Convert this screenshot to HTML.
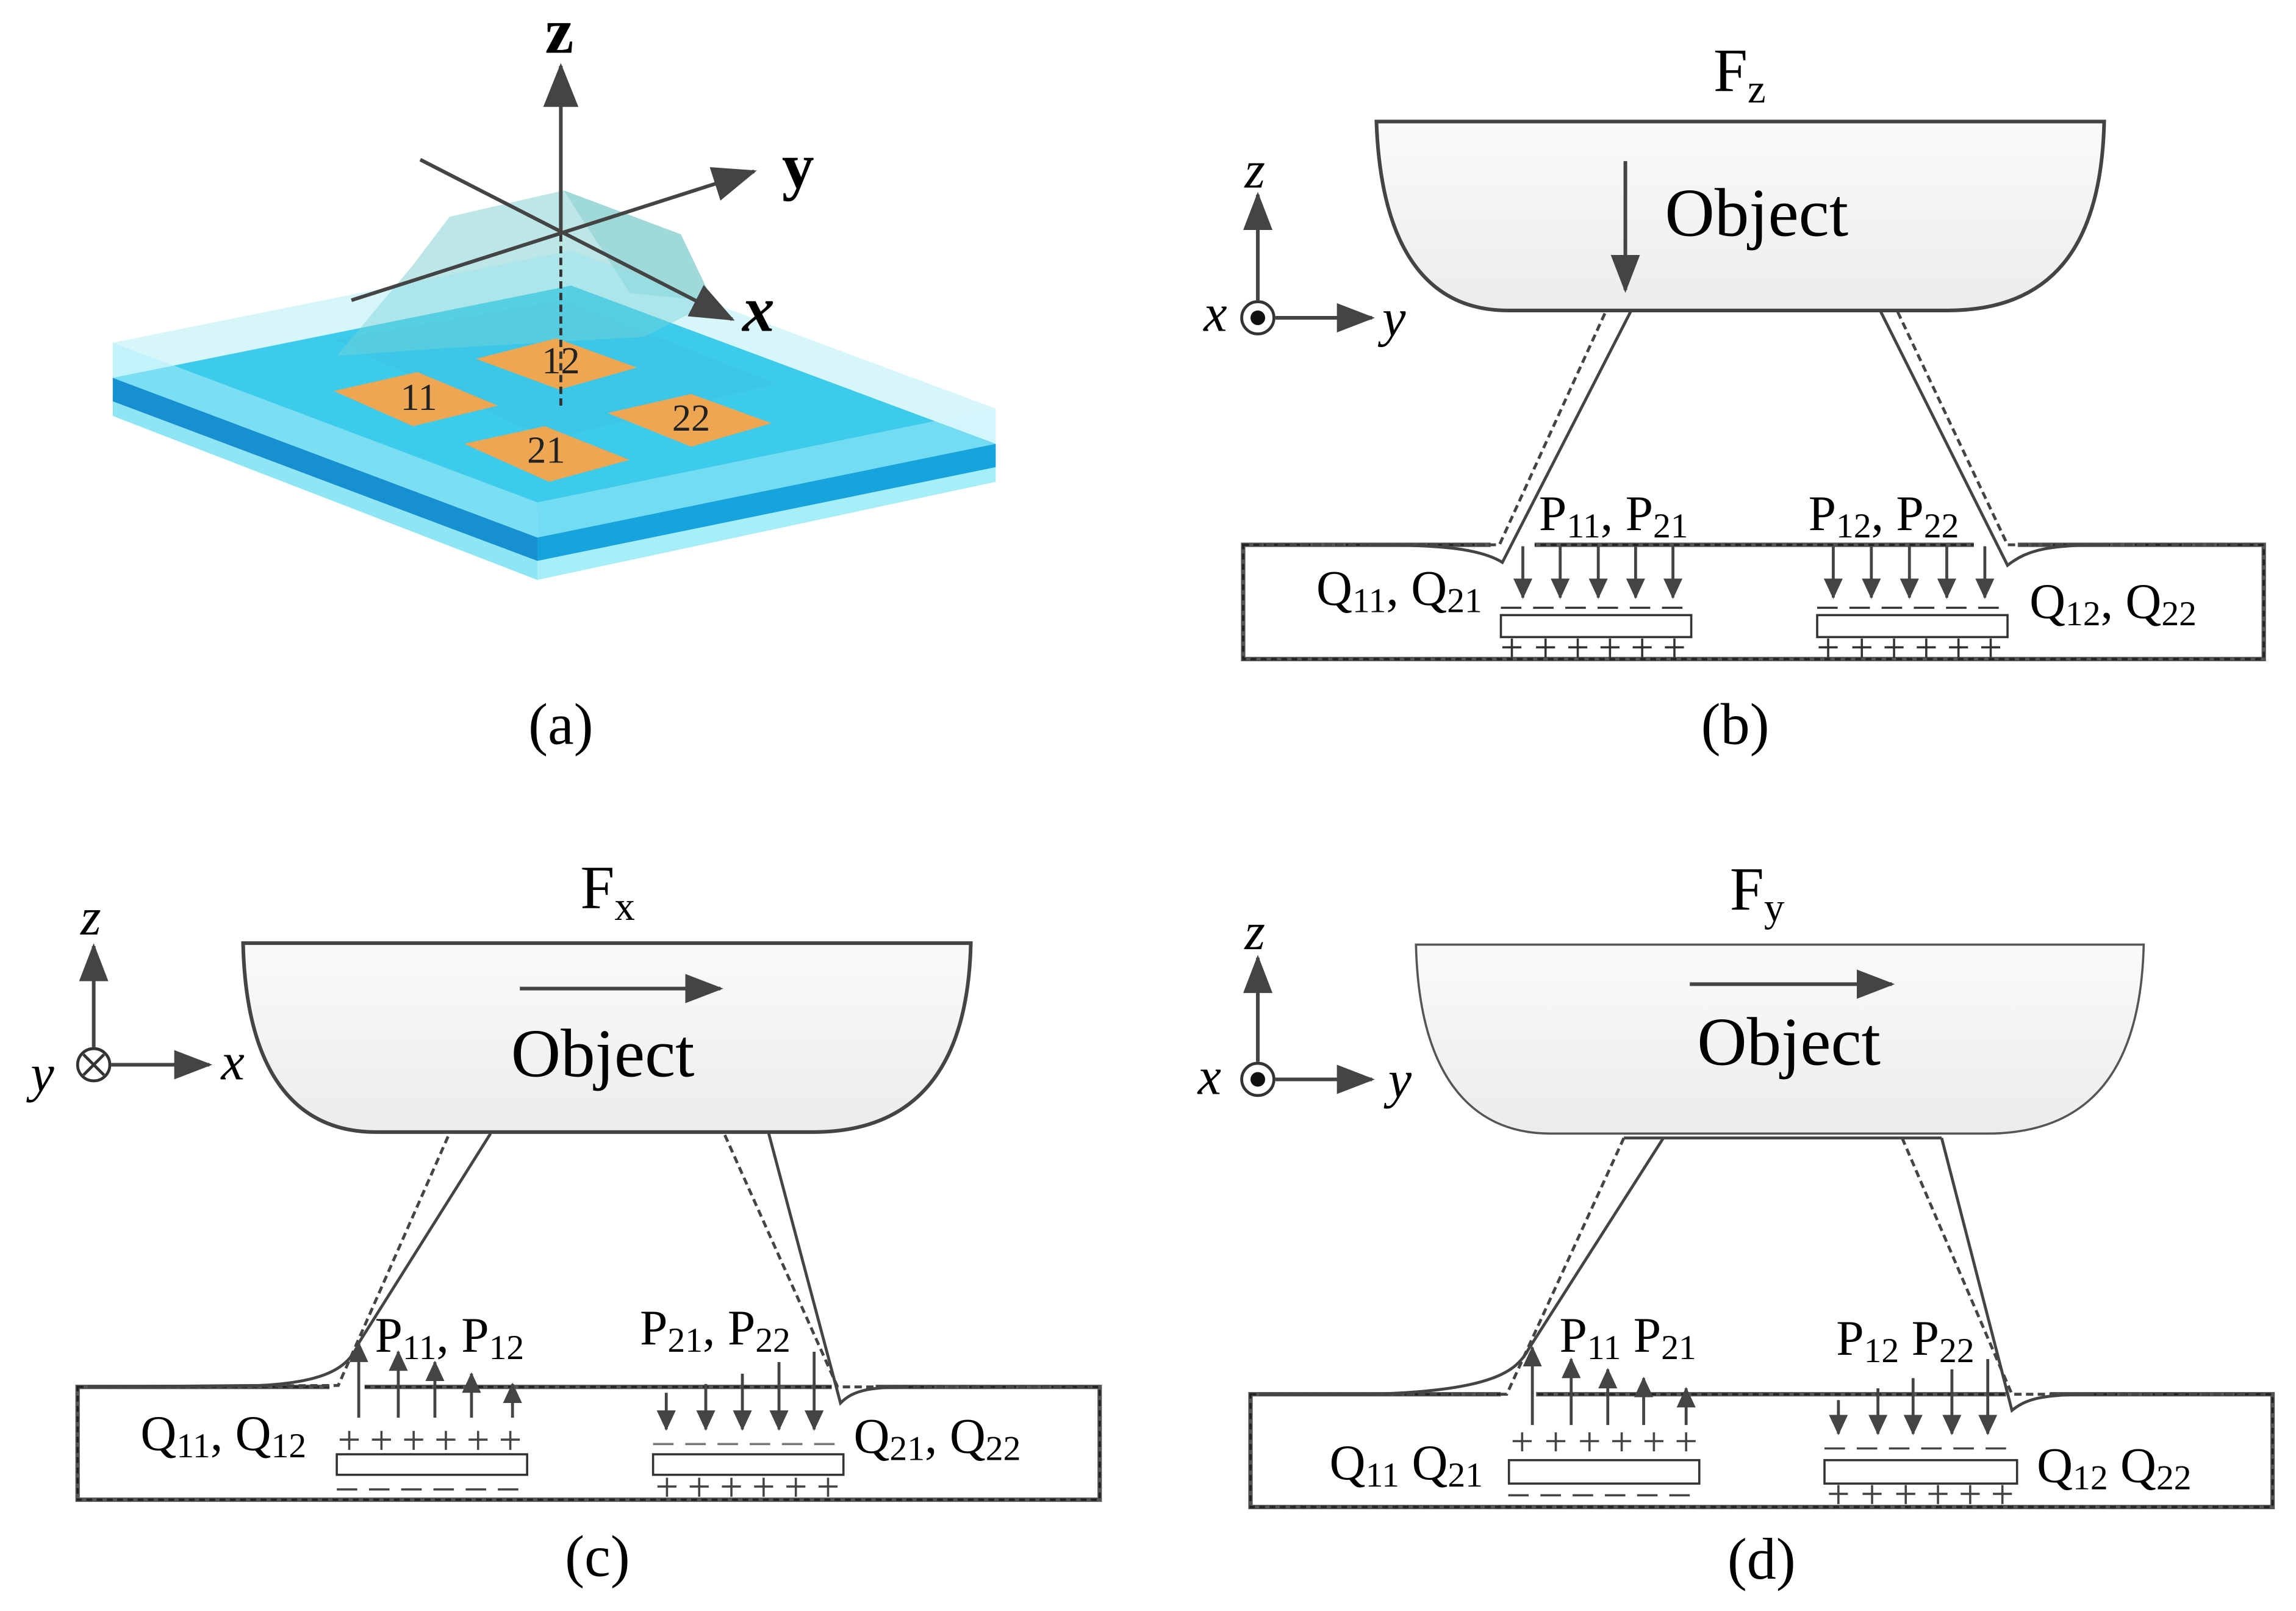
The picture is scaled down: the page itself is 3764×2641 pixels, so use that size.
<!DOCTYPE html>
<html><head><meta charset="utf-8"><style>html,body{margin:0;padding:0;background:#fff}svg{display:block}</style></head>
<body>
<svg width="3764" height="2641" viewBox="0 0 1568 1100" preserveAspectRatio="none" xmlns="http://www.w3.org/2000/svg" font-family="'Liberation Serif', serif">
<defs>
<linearGradient id="og" x1="0" y1="0" x2="0" y2="1"><stop offset="0" stop-color="#fafafa"/><stop offset="1" stop-color="#ececec"/></linearGradient>
<marker id="ah" markerWidth="26" markerHeight="20" refX="24" refY="10" orient="auto" markerUnits="userSpaceOnUse"><path d="M0,0 L26,10 L0,20 Z" fill="#444"/></marker>
<marker id="as" markerWidth="14" markerHeight="13" refX="13" refY="6.5" orient="auto" markerUnits="userSpaceOnUse"><path d="M0,0 L14,6.5 L0,13 Z" fill="#444"/></marker>
<marker id="aL" markerWidth="30" markerHeight="24" refX="28" refY="12" orient="auto" markerUnits="userSpaceOnUse"><path d="M0,0 L30,12 L0,24 Z" fill="#444"/></marker>
</defs>
<rect width="1568" height="1100" fill="#fff"/>

<!-- ===== (a) ===== -->
<polygon points="77,274 367,383 367,396 77,284" fill="#8ee6f5"/>
<polygon points="367,383 680,319 680,329 367,396" fill="#a6eef8"/>
<polygon points="77,258 367,367 367,383 77,274" fill="#1690d0"/>
<polygon points="367,367 680,303 680,319 367,383" fill="#17a4dc"/>
<polygon points="77,258 390,195 680,303 367,367" fill="#12bde8"/>
<polygon points="228,232 385,205 530,262 375,300" fill="#10b0de" opacity="0.5"/>
<polygon points="230,243 282,181 307,148 385,130 465,160 487,206 440,230 300,238" fill="#6ccaca" opacity="0.45"/>
<polygon points="385,130 465,160 487,206 430,200" fill="#58b8b8" opacity="0.3"/>
<polygon points="77,234 390,171 680,279 367,343" fill="#8be4f2" opacity="0.35"/>
<polygon points="77,234 367,343 367,367 77,258" fill="#a8eef8" opacity="0.7"/>
<polygon points="367,343 680,279 680,303 367,367" fill="#b4f0f8" opacity="0.6"/>
<polygon points="228,267 285,254 340,277 282,291" fill="#efa652"/>
<polygon points="325,245 380,231 435,251 382,266" fill="#efa652"/>
<polygon points="317,303 372,291 430,314 375,329" fill="#efa652"/>
<polygon points="415,282 472,269 527,289 472,305" fill="#efa652"/>
<g font-size="26" text-anchor="middle" fill="#222">
<text x="286" y="280">11</text><text x="383" y="255">12</text><text x="373" y="316">21</text><text x="472" y="294">22</text>
</g>
<line x1="383" y1="160" x2="383" y2="280" stroke="#333" stroke-width="2" stroke-dasharray="5,3"/>
<line x1="383" y1="160" x2="383" y2="45" stroke="#444" stroke-width="2.5" marker-end="url(#aL)"/>
<line x1="240" y1="205" x2="515" y2="117" stroke="#444" stroke-width="2.5" marker-end="url(#aL)"/>
<line x1="287" y1="109" x2="500" y2="218" stroke="#444" stroke-width="2.5" marker-end="url(#aL)"/>
<text x="382" y="36" font-size="44" font-weight="bold" text-anchor="middle">z</text>
<text x="545" y="128" font-size="44" font-weight="bold" text-anchor="middle">y</text>
<text x="518" y="226" font-size="44" font-weight="bold" font-style="italic" text-anchor="middle">x</text>
<text x="383" y="508" font-size="40" text-anchor="middle">(a)</text>

<!-- ===== (b) ===== -->
<text x="1188" y="62" font-size="42" text-anchor="middle">F<tspan font-size="28" dy="8">z</tspan></text>
<path d="M940,83 H1437 C1435,170 1400,212 1330,212 H1030 C975,212 943,170 940,83Z" fill="url(#og)" stroke="#444" stroke-width="2.5"/>
<line x1="1110" y1="110" x2="1110" y2="198" stroke="#444" stroke-width="2.5" marker-end="url(#ah)"/>
<text x="1137" y="161" font-size="47">Object</text>
<line x1="859" y1="205" x2="859" y2="133" stroke="#444" stroke-width="2.5" marker-end="url(#ah)"/>
<line x1="871" y1="217" x2="937" y2="217" stroke="#444" stroke-width="2.5" marker-end="url(#ah)"/>
<circle cx="859" cy="217" r="11" fill="#fff" stroke="#333" stroke-width="2"/><circle cx="859" cy="217" r="5" fill="#111"/>
<text x="857" y="128" font-size="36" font-style="italic" text-anchor="middle">z</text>
<text x="830" y="226" font-size="36" font-style="italic" text-anchor="middle">x</text>
<text x="952" y="229" font-size="36" font-style="italic" text-anchor="middle">y</text>
<rect x="849" y="372" width="697" height="78" fill="none" stroke="#555" stroke-width="3"/>
<rect x="849" y="372" width="697" height="78" fill="none" stroke="#222" stroke-width="1.5" stroke-dasharray="4,3"/>
<rect x="1018" y="370" width="30" height="5" fill="#fff"/><rect x="1348" y="370" width="30" height="5" fill="#fff"/>
<path d="M1114,212 L1026,384 C1010,374 980,372 934,372" fill="none" stroke="#444" stroke-width="2"/>
<path d="M1096,214 L1024,372 L860,372" fill="none" stroke="#444" stroke-width="2" stroke-dasharray="5,3"/>
<path d="M1284,212 L1371,386 C1385,375 1400,372 1440,372" fill="none" stroke="#444" stroke-width="2"/>
<path d="M1296,213 L1371,372 L1540,372" fill="none" stroke="#444" stroke-width="2" stroke-dasharray="5,3"/>
<g stroke="#444" stroke-width="2" marker-end="url(#as)">
<line x1="1040" y1="373" x2="1040" y2="408"/><line x1="1065.5" y1="373" x2="1065.5" y2="408"/><line x1="1091.5" y1="373" x2="1091.5" y2="408"/><line x1="1117" y1="373" x2="1117" y2="408"/><line x1="1142.5" y1="373" x2="1142.5" y2="408"/>
<line x1="1252" y1="373" x2="1252" y2="408"/><line x1="1278" y1="373" x2="1278" y2="408"/><line x1="1304" y1="373" x2="1304" y2="408"/><line x1="1329.5" y1="373" x2="1329.5" y2="408"/><line x1="1355.5" y1="373" x2="1355.5" y2="408"/>
</g>
<g fill="none" stroke="#333" stroke-width="1.5">
<line x1="1025" y1="415" x2="1155" y2="415" stroke-dasharray="14,8"/>
<line x1="1241" y1="415" x2="1371" y2="415" stroke-dasharray="14,8"/>
<rect x="1025" y="420" width="130" height="15" fill="#fff"/>
<rect x="1241" y="420" width="130" height="15" fill="#fff"/>
<path d="M1026,442h13M1032.5,436v13M1049,442h13M1055.5,436v13M1071,442h13M1077.5,436v13M1093,442h13M1099.5,436v13M1115,442h13M1121.5,436v13M1137,442h13M1143.5,436v13"/>
<path d="M1242,442h13M1248.5,436v13M1265,442h13M1271.5,436v13M1287,442h13M1293.5,436v13M1309,442h13M1315.5,436v13M1331,442h13M1337.5,436v13M1353,442h13M1359.5,436v13"/>
</g>
<g font-size="34">
<text x="1051" y="362">P<tspan font-size="24" dy="5">11</tspan><tspan dy="-5">,  P</tspan><tspan font-size="24" dy="5">21</tspan></text>
<text x="1235" y="362">P<tspan font-size="24" dy="5">12</tspan><tspan dy="-5">,  P</tspan><tspan font-size="24" dy="5">22</tspan></text>
<text x="899" y="413">Q<tspan font-size="24" dy="5">11</tspan><tspan dy="-5">,  Q</tspan><tspan font-size="24" dy="5">21</tspan></text>
<text x="1386" y="422">Q<tspan font-size="24" dy="5">12</tspan><tspan dy="-5">,  Q</tspan><tspan font-size="24" dy="5">22</tspan></text>
</g>
<text x="1185" y="508" font-size="40" text-anchor="middle">(b)</text>

<!-- ===== (c) ===== -->
<text x="415" y="620" font-size="42" text-anchor="middle">F<tspan font-size="28" dy="8">x</tspan></text>
<path d="M166,644 H663 C661,730 625,773 555,773 H257 C200,773 168,730 166,644Z" fill="url(#og)" stroke="#444" stroke-width="2.5"/>
<line x1="355" y1="675" x2="492" y2="675" stroke="#444" stroke-width="2.5" marker-end="url(#ah)"/>
<text x="349" y="735" font-size="47">Object</text>
<line x1="64" y1="715" x2="64" y2="646" stroke="#444" stroke-width="2.5" marker-end="url(#ah)"/>
<line x1="76" y1="727" x2="143" y2="727" stroke="#444" stroke-width="2.5" marker-end="url(#ah)"/>
<circle cx="64" cy="727" r="11" fill="#fff" stroke="#333" stroke-width="2"/>
<path d="M57,720 L71,734 M71,720 L57,734" stroke="#333" stroke-width="2"/>
<text x="62" y="638" font-size="36" font-style="italic" text-anchor="middle">z</text>
<text x="29" y="745" font-size="36" font-style="italic" text-anchor="middle">y</text>
<text x="159" y="737" font-size="36" font-style="italic" text-anchor="middle">x</text>
<rect x="53" y="947" width="698" height="77" fill="none" stroke="#555" stroke-width="3"/>
<rect x="53" y="947" width="698" height="77" fill="none" stroke="#222" stroke-width="1.5" stroke-dasharray="4,3"/>
<rect x="225" y="944" width="24" height="6" fill="#fff"/><rect x="568" y="944" width="30" height="6" fill="#fff"/>
<path d="M335,774 L245,917 C238,935 220,944 177,946 L60,947" fill="none" stroke="#444" stroke-width="2"/>
<path d="M306,776 L231,946 L60,947" fill="none" stroke="#444" stroke-width="2" stroke-dasharray="5,3"/>
<path d="M525,774 L574,958 C582,950 592,947 620,947" fill="none" stroke="#444" stroke-width="2"/>
<path d="M495,775 L572,947 L745,947" fill="none" stroke="#444" stroke-width="2" stroke-dasharray="5,3"/>
<g stroke="#444" stroke-width="2" marker-end="url(#as)">
<line x1="245" y1="968" x2="245" y2="917"/><line x1="272" y1="968" x2="272" y2="923"/><line x1="297" y1="968" x2="297" y2="930"/><line x1="322" y1="968" x2="322" y2="938"/><line x1="350" y1="968" x2="350" y2="945"/>
<line x1="455" y1="951" x2="455" y2="976"/><line x1="482" y1="945" x2="482" y2="976"/><line x1="507" y1="938" x2="507" y2="976"/><line x1="532" y1="930" x2="532" y2="976"/><line x1="556" y1="923" x2="556" y2="976"/>
</g>
<g fill="none" stroke="#444" stroke-width="1.5">
<line x1="230" y1="1017" x2="360" y2="1017" stroke-dasharray="14,8"/>
<line x1="446" y1="986" x2="576" y2="986" stroke-dasharray="14,8" stroke="#777"/>
<rect x="230" y="993" width="130" height="14" fill="#fff" stroke="#333"/>
<rect x="446" y="993" width="130" height="14" fill="#fff" stroke="#333"/>
<path d="M232,983h13M238.5,977v13M254,983h13M260.5,977v13M276,983h13M282.5,977v13M298,983h13M304.5,977v13M320,983h13M326.5,977v13M342,983h13M348.5,977v13"/>
<path d="M449,1015h13M455.5,1009v13M471,1015h13M477.5,1009v13M493,1015h13M499.5,1009v13M515,1015h13M521.5,1009v13M537,1015h13M543.5,1009v13M559,1015h13M565.5,1009v13"/>
</g>
<g font-size="34">
<text x="256" y="923">P<tspan font-size="24" dy="5">11</tspan><tspan dy="-5">,  P</tspan><tspan font-size="24" dy="5">12</tspan></text>
<text x="437" y="918">P<tspan font-size="24" dy="5">21</tspan><tspan dy="-5">,  P</tspan><tspan font-size="24" dy="5">22</tspan></text>
<text x="96" y="990">Q<tspan font-size="24" dy="5">11</tspan><tspan dy="-5">,  Q</tspan><tspan font-size="24" dy="5">12</tspan></text>
<text x="583" y="992">Q<tspan font-size="24" dy="5">21</tspan><tspan dy="-5">,  Q</tspan><tspan font-size="24" dy="5">22</tspan></text>
</g>
<text x="408" y="1076" font-size="40" text-anchor="middle">(c)</text>

<!-- ===== (d) ===== -->
<text x="1200" y="621" font-size="42" text-anchor="middle">F<tspan font-size="28" dy="8">y</tspan></text>
<path d="M967,645 H1464 C1462,731 1427,774 1357,774 H1059 C1002,774 969,731 967,645Z" fill="url(#og)" stroke="#555" stroke-width="1.5"/>
<line x1="1154" y1="672" x2="1292" y2="672" stroke="#444" stroke-width="2.5" marker-end="url(#ah)"/>
<text x="1159" y="727" font-size="47">Object</text>
<line x1="859" y1="725" x2="859" y2="654" stroke="#444" stroke-width="2.5" marker-end="url(#ah)"/>
<line x1="871" y1="737" x2="937" y2="737" stroke="#444" stroke-width="2.5" marker-end="url(#ah)"/>
<circle cx="859" cy="737" r="11" fill="#fff" stroke="#333" stroke-width="2"/><circle cx="859" cy="737" r="5" fill="#111"/>
<text x="857" y="648" font-size="36" font-style="italic" text-anchor="middle">z</text>
<text x="826" y="747" font-size="36" font-style="italic" text-anchor="middle">x</text>
<text x="956" y="749" font-size="36" font-style="italic" text-anchor="middle">y</text>
<rect x="854" y="952" width="698" height="77" fill="none" stroke="#555" stroke-width="3"/>
<rect x="854" y="952" width="698" height="77" fill="none" stroke="#222" stroke-width="1.5" stroke-dasharray="4,3"/>
<rect x="1025" y="949" width="24" height="6" fill="#fff"/><rect x="1370" y="949" width="30" height="6" fill="#fff"/>
<line x1="1109" y1="777" x2="1326" y2="777" stroke="#444" stroke-width="2"/>
<path d="M1136,777 L1044,921 C1036,936 1020,950 934,952 L860,952" fill="none" stroke="#444" stroke-width="2"/>
<path d="M1109,777 L1029,952 L860,952" fill="none" stroke="#444" stroke-width="2" stroke-dasharray="5,3"/>
<path d="M1326,777 L1374,963 C1384,955 1395,952 1430,952" fill="none" stroke="#444" stroke-width="2"/>
<path d="M1299,777 L1374,952 L1546,952" fill="none" stroke="#444" stroke-width="2" stroke-dasharray="5,3"/>
<g stroke="#444" stroke-width="2" marker-end="url(#as)">
<line x1="1046.5" y1="973" x2="1046.5" y2="920"/><line x1="1073" y1="973" x2="1073" y2="928"/><line x1="1098" y1="973" x2="1098" y2="935"/><line x1="1122.5" y1="973" x2="1122.5" y2="941"/><line x1="1151.5" y1="973" x2="1151.5" y2="948"/>
<line x1="1255.5" y1="956" x2="1255.5" y2="979"/><line x1="1282.5" y1="948" x2="1282.5" y2="979"/><line x1="1306.5" y1="941" x2="1306.5" y2="979"/><line x1="1333" y1="935" x2="1333" y2="979"/><line x1="1357.5" y1="928" x2="1357.5" y2="979"/>
</g>
<g fill="none" stroke="#444" stroke-width="1.5">
<line x1="1030" y1="1021" x2="1160" y2="1021" stroke-dasharray="14,8"/>
<line x1="1246" y1="989" x2="1377" y2="989" stroke-dasharray="14,8"/>
<rect x="1030.5" y="997" width="130" height="16" fill="#fff" stroke="#333"/>
<rect x="1246" y="997" width="131.5" height="16" fill="#fff" stroke="#333"/>
<path d="M1033,984h13M1039.5,978v13M1056,984h13M1062.5,978v13M1079,984h13M1085.5,978v13M1101,984h13M1107.5,978v13M1123,984h13M1129.5,978v13M1145,984h13M1151.5,978v13"/>
<path d="M1249,1020h13M1255.5,1014v13M1272,1020h13M1278.5,1014v13M1295,1020h13M1301.5,1014v13M1317,1020h13M1323.5,1014v13M1339,1020h13M1345.5,1014v13M1361,1020h13M1367.5,1014v13"/>
</g>
<g font-size="34">
<text x="1065" y="923">P<tspan font-size="24" dy="5">11</tspan><tspan dy="-5"> P</tspan><tspan font-size="24" dy="5">21</tspan></text>
<text x="1254" y="925">P<tspan font-size="24" dy="5">12</tspan><tspan dy="-5"> P</tspan><tspan font-size="24" dy="5">22</tspan></text>
<text x="908" y="1010">Q<tspan font-size="24" dy="5">11</tspan><tspan dy="-5"> Q</tspan><tspan font-size="24" dy="5">21</tspan></text>
<text x="1391" y="1012">Q<tspan font-size="24" dy="5">12</tspan><tspan dy="-5"> Q</tspan><tspan font-size="24" dy="5">22</tspan></text>
</g>
<text x="1203" y="1078" font-size="40" text-anchor="middle">(d)</text>
</svg>
</body></html>
